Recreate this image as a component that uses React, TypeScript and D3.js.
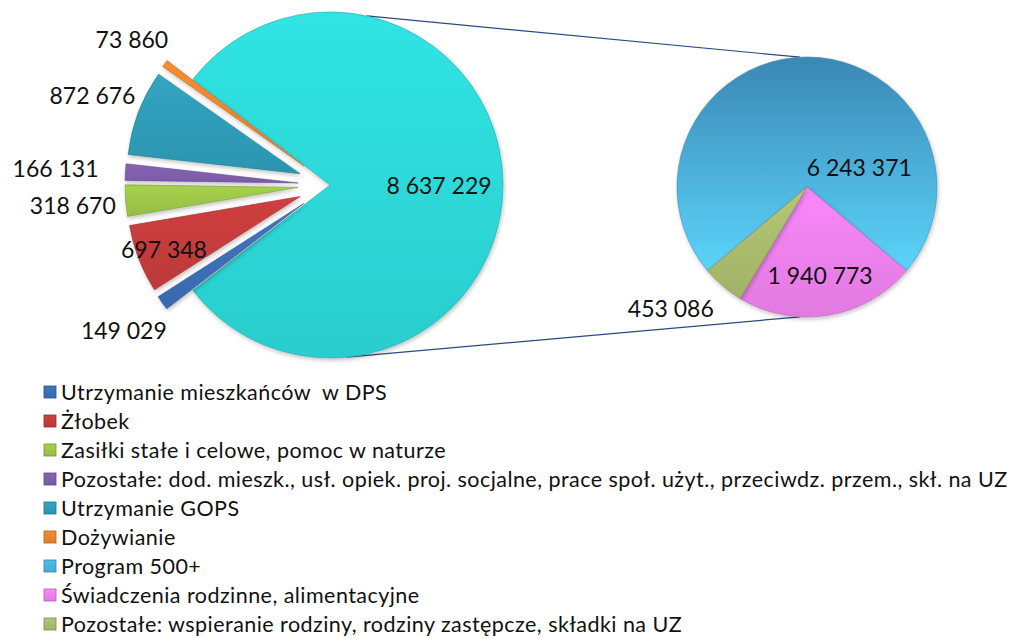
import React from "react";
import * as d3 from "d3";

// main pie slices (left), listed bottom-up as Excel draws them
const mainNames = [
  "Utrzymanie mieszkańców  w DPS",
  "Żłobek",
  "Zasiłki stałe i celowe, pomoc w naturze",
  "Pozostałe: dod. mieszk., usł. opiek. proj. socjalne, prace społ. użyt., przeciwdz. przem., skł. na UZ",
  "Utrzymanie GOPS",
  "Dożywianie",
];
const mainValues = [149029, 697348, 318670, 166131, 872676, 73860];
const mainColors = ["#3b6db5", "#c23b3b", "#9bc447", "#7e5daa", "#2e9ab5", "#e8832c"];

// the aggregated slice shown in the secondary pie
const otherValue = 8637229;
const otherColor = "#2dd4d4";

// secondary pie (right)
const secondNames = [
  "Program 500+",
  "Świadczenia rodzinne, alimentacyjne",
  "Pozostałe: wspieranie rodziny, rodziny zastępcze, składki na UZ",
];
const secondValues = [6243371, 1940773, 453086];
const secondColors = ["#4aafdc", "#e97ee9", "#a7b96c"];

// label placement (radius from pie centre, angle offset in degrees)
const mainLabelRadius = [252, 178, 258, 275, 254, 246];
const otherLabelRadius = 109;
const secondLabelRadius = [56, 89, 182];
const secondLabelTurn = [69, 1, 8];

const W = 1032;
const H = 639;
const cx1 = 330, cy1 = 185, r1 = 173;
const cx2 = 807, cy2 = 187, r2 = 130;
const explode = 32;

const fmt = (v: number) => d3.format(",")(v).replace(/,/g, " ");
const polar = (cx: number, cy: number, r: number, a: number) => [cx + r * Math.sin(a), cy - r * Math.cos(a)];

export default function App() {
  // main pie: aggregated slice first, centred pointing right
  const total1 = otherValue + d3.sum(mainValues);
  const bigAngle = (2 * Math.PI * otherValue) / total1;
  const start1 = Math.PI / 2 - bigAngle / 2;
  const arcs1 = d3
    .pie<number>()
    .sort(null)
    .startAngle(start1)
    .endAngle(start1 + 2 * Math.PI)([otherValue, ...mainValues]);

  const total2 = d3.sum(secondValues);
  const a500 = (2 * Math.PI * secondValues[0]) / total2;
  const arcs2 = d3
    .pie<number>()
    .sort(null)
    .startAngle(-a500 / 2)
    .endAngle(-a500 / 2 + 2 * Math.PI)(secondValues);

  const arc1 = d3.arc<d3.PieArcDatum<number>>().innerRadius(0).outerRadius(r1);
  const arc2 = d3.arc<d3.PieArcDatum<number>>().innerRadius(0).outerRadius(r2);

  const mid = (d: d3.PieArcDatum<number>) => (d.startAngle + d.endAngle) / 2;

  // series lines
  const deg = Math.PI / 180;
  const [l1x, l1y] = polar(cx1, cy1, r1, 12.3 * deg);
  const [l2x, l2y] = polar(cx2, cy2, r2, -3 * deg);
  const [l3x, l3y] = polar(cx1, cy1, r1, 174.5 * deg);
  const [l4x, l4y] = polar(cx2, cy2, r2, 183 * deg);

  const legendNames = [...mainNames, ...secondNames];
  const legendColors = [...mainColors, ...secondColors];
  const legendY = d3.scalePoint<number>().domain(d3.range(legendNames.length)).range([392, 624]);

  const allColors = [otherColor, ...mainColors, ...secondColors];

  return (
    <svg width={W} height={H} style={{ position: "absolute", left: 0, top: 0, background: "#fff" }}
      fontFamily="Lato, 'Open Sans', sans-serif">
      <defs>
        {allColors.map((c) => {
          const col = d3.color(c)!;
          return (
            <linearGradient key={c} id={"g" + c.slice(1)} x1="0" y1="0" x2="0" y2="1">
              <stop offset="0%" stopColor={col.brighter(0.2).formatHex()} />
              <stop offset="100%" stopColor={col.darker(0.1).formatHex()} />
            </linearGradient>
          );
        })}
        <linearGradient id="g500" x1="0" y1="0" x2="0" y2="1">
          <stop offset="0%" stopColor="#3a88b4" />
          <stop offset="100%" stopColor="#5cd4fb" />
        </linearGradient>
        <filter id="sh" x="-20%" y="-20%" width="140%" height="140%">
          <feDropShadow dx="1" dy="2" stdDeviation="2" floodColor="#000" floodOpacity="0.25" />
        </filter>
      </defs>

      <line x1={l1x} y1={l1y} x2={l2x} y2={l2y} stroke="#2b4a7c" strokeWidth={1.2} />
      <line x1={l3x} y1={l3y} x2={l4x} y2={l4y} stroke="#2b4a7c" strokeWidth={1.2} />

      {/* main pie */}
      <g transform={`translate(${cx1},${cy1})`}>
        {arcs1.map((d, i) => {
          const m = mid(d);
          const off = i === 0 ? 0 : explode;
          const c = i === 0 ? otherColor : mainColors[i - 1];
          return (
            <path
              key={i}
              d={arc1(d)!}
              transform={`translate(${off * Math.sin(m)},${-off * Math.cos(m)})`}
              fill={`url(#g${c.slice(1)})`}
              stroke={d3.color(c)!.darker(0.6).formatHex()}
              strokeWidth={0.6}
              filter="url(#sh)"
            />
          );
        })}
        {arcs1.map((d, i) => {
          const m = mid(d);
          const rr = i === 0 ? otherLabelRadius : mainLabelRadius[i - 1];
          return (
            <text key={"t" + i} x={rr * Math.sin(m)} y={-rr * Math.cos(m)} textAnchor="middle"
              dominantBaseline="central" fontSize={23} fill="#111">
              {fmt(d.data)}
            </text>
          );
        })}
      </g>

      {/* secondary pie */}
      <g transform={`translate(${cx2},${cy2})`}>
        {arcs2.map((d, i) => {
          const c = secondColors[i];
          return (
            <path key={i} d={arc2(d)!} fill={i === 0 ? "url(#g500)" : `url(#g${c.slice(1)})`}
              stroke={d3.color(c)!.darker(0.6).formatHex()} strokeWidth={0.6} filter="url(#sh)" />
          );
        })}
        {arcs2.map((d, i) => {
          const a = mid(d) + secondLabelTurn[i] * deg;
          const rr = secondLabelRadius[i];
          return (
            <text key={"t" + i} x={rr * Math.sin(a)} y={-rr * Math.cos(a)} textAnchor="middle"
              dominantBaseline="central" fontSize={23} fill="#111">
              {fmt(d.data)}
            </text>
          );
        })}
      </g>

      {/* legend */}
      {legendNames.map((n, i) => {
        const y = legendY(i)!;
        const c = legendColors[i];
        return (
          <g key={"l" + i}>
            <rect x={44} y={y - 6} width={12} height={12} fill={`url(#g${c.slice(1)})`}
              stroke={d3.color(c)!.darker(0.8).formatHex()} strokeWidth={0.8} />
            <text x={61} y={y} dominantBaseline="central" fontSize={21.5} letterSpacing={0.45} fill="#111"
              style={{ whiteSpace: "pre" }}>
              {n}
            </text>
          </g>
        );
      })}
    </svg>
  );
}
